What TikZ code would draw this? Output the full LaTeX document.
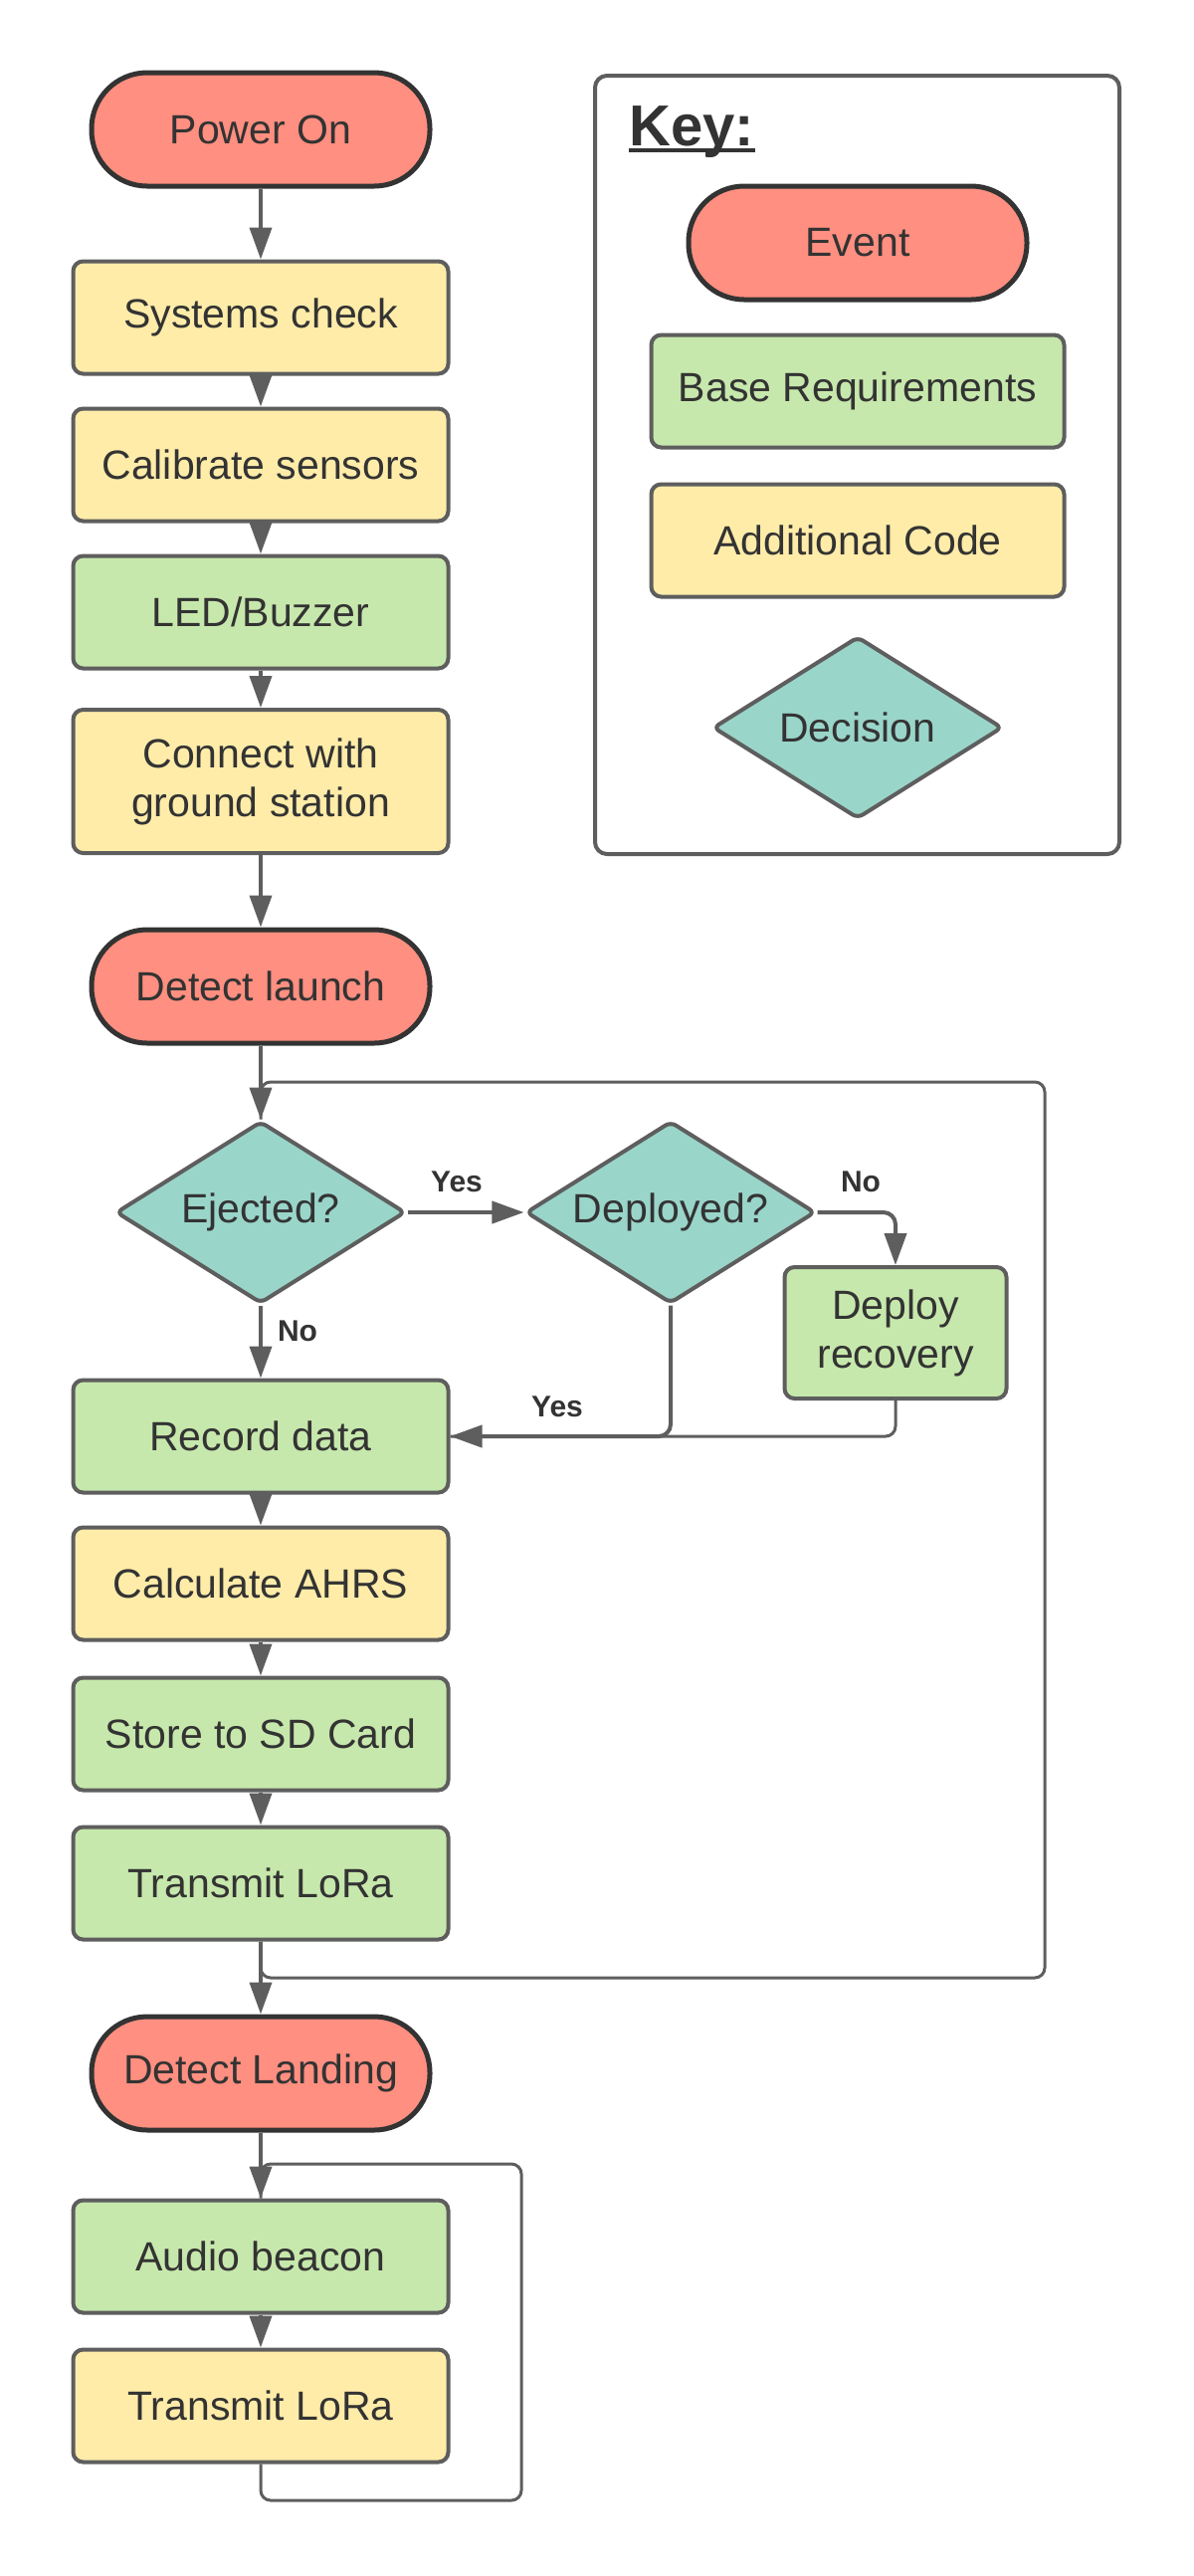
\documentclass[tikz,border=0pt]{standalone}
\usepackage{fontspec}
\setmainfont{Liberation Sans}
\usetikzlibrary{shapes.geometric,arrows.meta}
\definecolor{eventred}{HTML}{FF8F80}
\definecolor{eventedge}{HTML}{333333}
\definecolor{basegreen}{HTML}{C7E8AC}
\definecolor{codeyellow}{HTML}{FFECA9}
\definecolor{decteal}{HTML}{9AD5CA}
\definecolor{edgegray}{HTML}{5E5E5E}
\definecolor{textgray}{HTML}{333333}
\begin{document}
\begin{tikzpicture}
[x=0.5pt,y=-0.5pt,
 every node/.style={text=textgray,font=\fontsize{20.5}{24.5}\selectfont},
 eventnode/.style={draw=eventedge,fill=eventred,line width=2.5pt,rounded corners=28pt,minimum width=170pt,minimum height=57pt,inner sep=0pt},
 basenode/.style={draw=edgegray,fill=basegreen,line width=2pt,rounded corners=5pt,minimum width=188.5pt,minimum height=56.5pt,inner sep=0pt,align=center},
 codenode/.style={basenode,fill=codeyellow},
 decisionnode/.style={diamond,shape aspect=1.59,draw=edgegray,fill=decteal,line width=2pt,rounded corners=3pt,minimum width=145.5pt,minimum height=91.5pt,inner sep=0pt},
 keyframe/.style={draw=edgegray,line width=2pt,rounded corners=6pt,minimum width=263.5pt,minimum height=391pt,inner sep=0pt},
 flowarrow/.style={draw=edgegray,line width=2pt,-{Triangle[length=16pt,width=11pt]}},
 loopline/.style={draw=edgegray,line width=1.5pt,rounded corners=5pt},
 answer/.style={font=\bfseries\fontsize{15}{18}\selectfont}]
\useasboundingbox (0,0) rectangle (1200,2588);

% key
\node (keybox) at (861.5,467) [keyframe] {};
\node (keytitle) at (632,146) [anchor=base west,inner sep=0pt,font=\bfseries\fontsize{29}{34}\selectfont] {Key:};
\draw[textgray,line width=2pt] ([yshift=-2.5pt]keytitle.base west) -- ([yshift=-2.5pt]keytitle.base east);
\node (keyevent) at (862,244) [eventnode] {Event};
\node (keybase) at (862,393) [basenode,minimum width=207.5pt] {Base Requirements};
\node (keycode) at (862,543) [codenode,minimum width=207.5pt] {Additional Code};
\node (keydec) at (862,731) [decisionnode] {Decision};

% start up
\node (power) at (262,130) [eventnode] {Power On};
\node (sys) at (262,319) [codenode] {Systems check};
\node (calib) at (262,467) [codenode] {Calibrate sensors};
\node (led) at (262,615) [basenode] {LED/Buzzer};
\node (conn) at (262,785) [codenode,minimum height=72pt] {Connect with\\ground station};

% flight
\node (launch) at (262,991) [eventnode] {Detect launch};
\node (eject) at (262,1218) [decisionnode] {Ejected?};
\node (deployd) at (674,1218) [decisionnode] {Deployed?};
\node (deployr) at (900,1339) [basenode,minimum width=111.5pt,minimum height=66pt] {Deploy\\recovery};
\node (record) at (262,1443) [basenode] {Record data};
\node (ahrs) at (262,1591) [codenode] {Calculate AHRS};
\node (sd) at (262,1742) [basenode] {Store to SD Card};
\node (lora) at (262,1892) [basenode] {Transmit LoRa};

% landing
\node (landing) at (262,2083) [eventnode] {Detect Landing};
\node (beacon) at (262,2267) [basenode] {Audio beacon};
\node (lora2) at (262,2417) [codenode] {Transmit LoRa};

\node (yes1) at (459,1187) [answer] {Yes};
\node (no1) at (865,1187) [answer] {No};
\node (no2) at (299,1337) [answer] {No};
\node (yes2) at (560,1413) [answer] {Yes};

\coordinate (loopin) at (262,1087);
\coordinate (looptop) at (1050,1087);
\coordinate (loopbot) at (1050,1987);
\coordinate (loopout) at (262,1987);
\coordinate (beaconin) at (262,2174);
\coordinate (beacontop) at (524,2174);
\coordinate (beaconbot) at (524,2512);
\coordinate (beaconout) at (262,2512);

\draw[loopline] (lora.south) -- (loopout) -- (loopbot) -- (looptop) -- (loopin) -- (eject.north);
\draw[loopline] (lora2.south) -- (beaconout) -- (beaconbot) -- (beacontop) -- (beaconin) -- (beacon.north);
\draw[loopline] (deployr.south) |- (record.east);

\draw[flowarrow] (power) -- (sys);
\draw[flowarrow] (sys) -- (calib);
\draw[flowarrow] (calib) -- (led);
\draw[flowarrow] (led) -- (conn);
\draw[flowarrow] (conn) -- (launch);
\draw[flowarrow] (launch) -- (eject);
\draw[flowarrow] (eject) -- (deployd);
\draw[flowarrow] (eject) -- (record);
\draw[flowarrow,rounded corners=6pt] (deployd.east) -| (deployr.north);
\draw[flowarrow,rounded corners=6pt] (deployd.south) |- (record.east);
\draw[flowarrow] (record) -- (ahrs);
\draw[flowarrow] (ahrs) -- (sd);
\draw[flowarrow] (sd) -- (lora);
\draw[flowarrow] (lora) -- (landing);
\draw[flowarrow] (landing) -- (beacon);
\draw[flowarrow] (beacon) -- (lora2);

\end{tikzpicture}
\end{document}
